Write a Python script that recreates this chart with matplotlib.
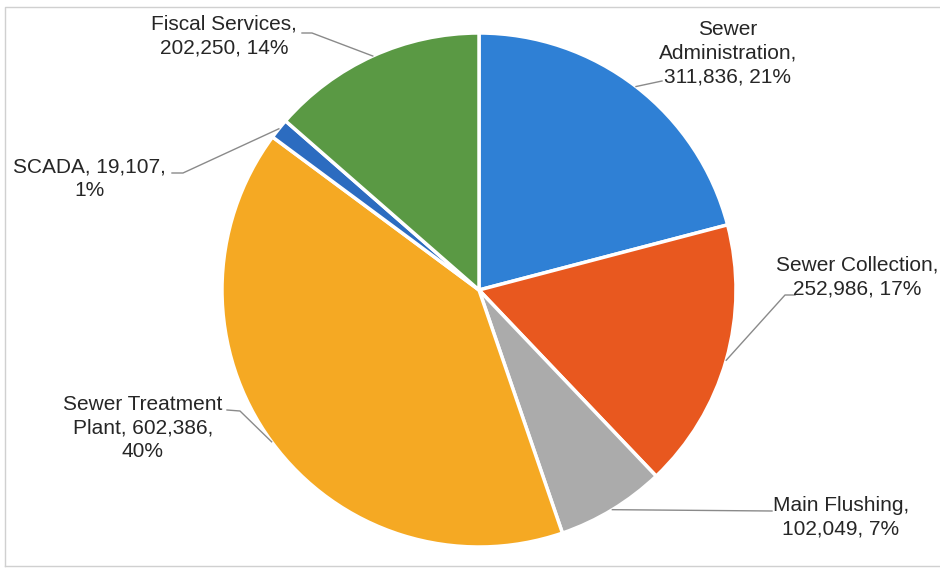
import matplotlib.pyplot as plt
import numpy as np

plt.rcParams['font.family'] = ['Liberation Sans', 'DejaVu Sans']

names = ['Sewer Administration', 'Sewer Collection', 'Main Flushing',
         'Sewer Treatment Plant', 'SCADA', 'Fiscal Services']
values = [311836, 252986, 102049, 602386, 19107, 202250]
colors = ['#2F80D5', '#E8581F', '#ABABAB', '#F5A923', '#2C6CC0', '#5A9944']
# label text as wrapped in the chart
label_text = ['Sewer\nAdministration,\n311,836, 21%',
              'Sewer Collection,\n252,986, 17%',
              'Main Flushing,\n102,049, 7%',
              'Sewer Treatment\nPlant, 602,386,\n40%',
              'SCADA, 19,107,\n1%',
              'Fiscal Services,\n202,250, 14%']

# text block centre, pixels from top-left
label_pos = [(728, 53), (857, 277), (841, 517), (143, 428), (89, 179), (224, 36)]
# elbow point(s) and end of each leader line
leader_pts = [[(662, 81)],
              [(785, 295), (795, 295)],
              [(772, 511)],
              [(240, 411), (227, 410)],
              [(183, 173), (172, 173)],
              [(312, 33), (302, 33)]]

W, H = 940, 569
cx, cy, r = 479, 290, 257

fig = plt.figure(figsize=(9.4, 5.69), dpi=100)
ax = fig.add_axes([0, 0, 1, 1])

ax.pie(values, colors=colors, startangle=90, counterclock=False,
       radius=r, center=(cx, H - cy),
       wedgeprops=dict(edgecolor='white', linewidth=2.5))
ax.set_xlim(0, W)
ax.set_ylim(0, H)
ax.set_aspect('equal')
ax.axis('off')

total = float(sum(values))
start = 0.0
for i, v in enumerate(values):
    frac = v / total
    mid = 90 - 360 * (start + frac / 2)
    start += frac
    px = cx + r * np.cos(np.radians(mid))
    py = cy - r * np.sin(np.radians(mid))
    pts = [(px, py)] + leader_pts[i]
    ax.plot([p[0] for p in pts], [H - p[1] for p in pts],
            color='#8a8a8a', lw=1, zorder=3)
    ax.text(label_pos[i][0], H - label_pos[i][1], label_text[i],
            ha='center', va='center', multialignment='center',
            fontsize=15, color='#262626', linespacing=1.3, zorder=4)

# faint border of the chart area
ax.plot([5, 5, 940], [H - 566, H - 7, H - 7], color='#d0d0d0', lw=1)
ax.plot([5, 940], [H - 566, H - 566], color='#d0d0d0', lw=1)

fig.savefig('out.png', dpi=100)
